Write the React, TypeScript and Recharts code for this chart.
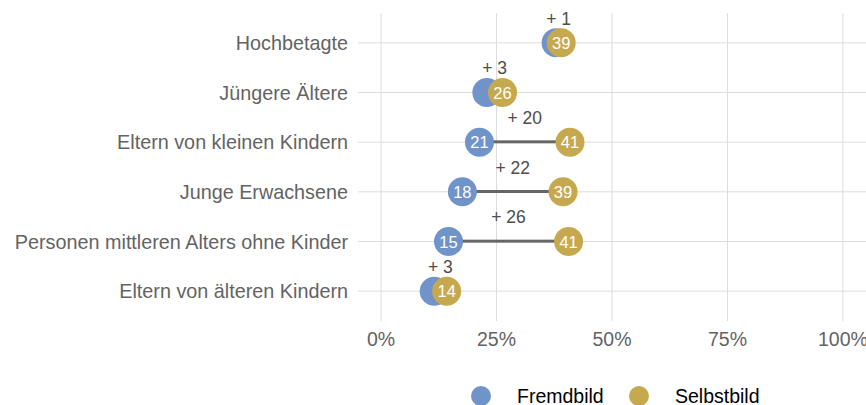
import {
  Bar,
  CartesianGrid,
  ComposedChart,
  Legend,
  Line,
  XAxis,
  YAxis,
} from 'recharts';

const FONT = '"Liberation Sans", Arial, Helvetica, sans-serif';
const BLUE = '#7094C9';
const GOLD = '#C6A94F';
const AXIS_TEXT = '#636363';
const GRID = '#dcdcdc';

const categories = [
  'Hochbetagte',
  'Jüngere Ältere',
  'Eltern von kleinen Kindern',
  'Junge Erwachsene',
  'Personen mittleren Alters ohne Kinder',
  'Eltern von älteren Kindern',
];
const fremdbild = [37.9, 22.9, 21.3, 17.6, 14.6, 11.5];
const selbstbild = [39.0, 26.3, 40.9, 39.4, 40.6, 14.2];
const differenz = [1, 3, 20, 22, 26, 3];
const xTicks = [0, 25, 50, 75, 100];

const data = categories.map((name, i) => ({
  name,
  fremd: fremdbild[i],
  selbst: selbstbild[i],
  diff: differenz[i],
}));

function Segment(props: any) {
  const { x, y, width, height, payload } = props;
  const cy = y + height / 2;
  return (
    <g>
      <rect x={x} y={cy - 1.5} width={width} height={3} fill="#666666" />
      <text
        x={x + width / 2}
        y={cy - 24}
        textAnchor="middle"
        dominantBaseline="central"
        fontSize={17.5}
        fontFamily={FONT}
        fill="#4d4d4d"
      >
        {`+ ${payload.diff}`}
      </text>
    </g>
  );
}

// blue labels are hidden where the gold point covers them
function makeDot(color: string, hideCloseLabels: boolean) {
  return (props: any) => {
    const { cx, cy, value, index, payload } = props;
    const showLabel = !hideCloseLabels || payload.diff > 5;
    return (
      <g key={`${color}-${index}`}>
        <circle cx={cx} cy={cy} r={14.5} fill={color} />
        {showLabel && (
          <text
            x={cx}
            y={cy}
            textAnchor="middle"
            dominantBaseline="central"
            fontSize={16.5}
            fontFamily={FONT}
            fill="#ffffff"
          >
            {Math.round(value)}
          </text>
        )}
      </g>
    );
  };
}

function LegendBox() {
  return (
    <svg width={866} height={34} style={{ display: 'block' }}>
      <circle cx={481} cy={25} r={10} fill={BLUE} />
      <text x={517} y={25} dominantBaseline="central" fontSize={19.5} fontFamily={FONT} fill="#000">
        Fremdbild
      </text>
      <circle cx={639} cy={25} r={10} fill={GOLD} />
      <text x={675} y={25} dominantBaseline="central" fontSize={19.5} fontFamily={FONT} fill="#000">
        Selbstbild
      </text>
    </svg>
  );
}

export default function App() {
  return (
    <div style={{ position: 'absolute', left: 0, top: 0, background: '#fff' }}>
      <ComposedChart
        width={866}
        height={405}
        layout="vertical"
        data={data}
        margin={{ top: 13, right: 0, bottom: 0, left: 0 }}
      >
        <CartesianGrid stroke={GRID} strokeWidth={1} syncWithTicks />
        <XAxis
          type="number"
          domain={[-5, 105]}
          ticks={xTicks}
          allowDataOverflow
          tickFormatter={(v) => `${v}%`}
          tickLine={false}
          axisLine={false}
          tickSize={0}
          tickMargin={11}
          height={50}
          tick={{ fontSize: 19.5, fill: AXIS_TEXT, fontFamily: FONT }}
        />
        <YAxis
          type="category"
          dataKey="name"
          width={358}
          padding={{ top: 5, bottom: 5 }}
          tickLine={false}
          axisLine={false}
          tickSize={0}
          tickMargin={10}
          interval={0}
          tick={{ fontSize: 19.8, fill: AXIS_TEXT, fontFamily: FONT }}
        />
        <Bar
          dataKey={(d: any) => [d.fremd, d.selbst]}
          barSize={3}
          shape={<Segment />}
          isAnimationActive={false}
        />
        <Line
          dataKey="fremd"
          stroke="none"
          dot={makeDot(BLUE, true)}
          activeDot={false}
          isAnimationActive={false}
        />
        <Line
          dataKey="selbst"
          stroke="none"
          dot={makeDot(GOLD, false)}
          activeDot={false}
          isAnimationActive={false}
        />
        <Legend
          verticalAlign="bottom"
          height={34}
          wrapperStyle={{ left: 0, width: 866 }}
          content={() => <LegendBox />}
        />
      </ComposedChart>
    </div>
  );
}
